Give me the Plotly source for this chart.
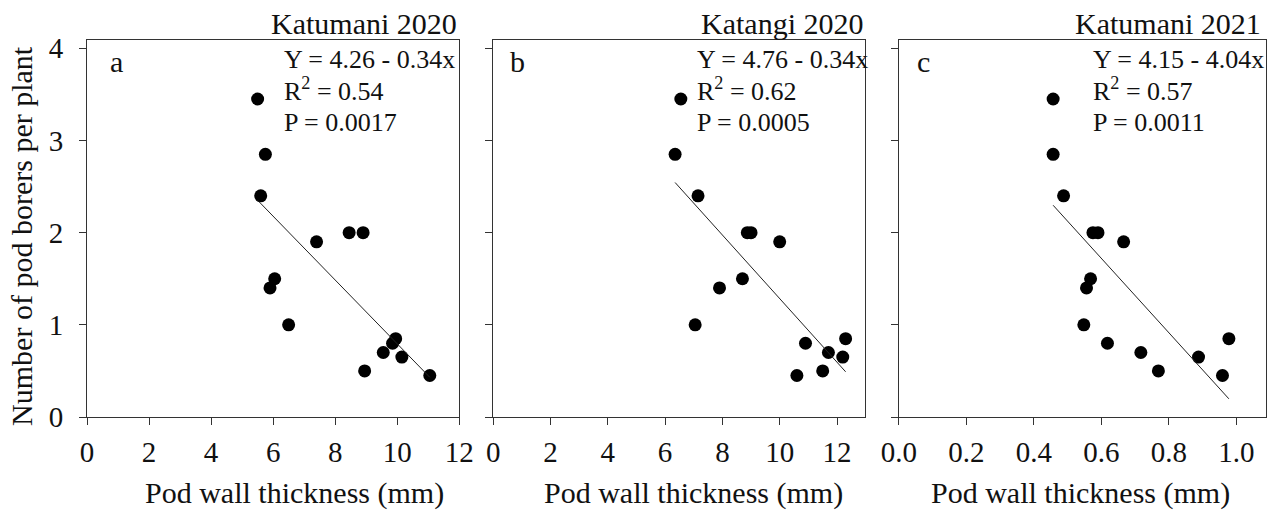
import numpy as np
import plotly.graph_objects as go

# ---- data ----
panel_titles = ["Katumani 2020", "Katangi 2020", "Katumani 2021"]
panel_letters = ["a", "b", "c"]
equations = ["Y = 4.26 - 0.34x", "Y = 4.76 - 0.34x", "Y = 4.15 - 4.04x"]
r2_values = ["0.54", "0.62", "0.57"]
p_values = ["0.0017", "0.0005", "0.0011"]

x_a = [5.5, 5.75, 5.6, 7.4, 8.45, 8.9, 6.05, 5.9, 6.5, 9.95, 9.85, 9.55, 10.15, 8.95, 11.05]
y_a = [3.45, 2.85, 2.4, 1.9, 2.0, 2.0, 1.5, 1.4, 1.0, 0.85, 0.8, 0.7, 0.65, 0.5, 0.45]

x_b = [6.55, 6.35, 7.15, 8.87, 9.0, 10.0, 8.7, 7.9, 7.05, 10.9, 12.3, 11.7, 12.2, 11.5, 10.6]
y_b = [3.45, 2.85, 2.4, 2.0, 2.0, 1.9, 1.5, 1.4, 1.0, 0.8, 0.85, 0.7, 0.65, 0.5, 0.45]

x_c = [0.457, 0.457, 0.488, 0.575, 0.59, 0.666, 0.568, 0.556, 0.548, 0.618, 0.717, 0.769, 0.888, 0.959, 0.978]
y_c = [3.45, 2.85, 2.4, 2.0, 2.0, 1.9, 1.5, 1.4, 1.0, 0.8, 0.7, 0.5, 0.65, 0.45, 0.85]

x_tickvals_ab = [0, 2, 4, 6, 8, 10, 12]
x_tickvals_c = [0.0, 0.2, 0.4, 0.6, 0.8, 1.0]
x_ticktext_c = ["0.0", "0.2", "0.4", "0.6", "0.8", "1.0"]
y_tickvals = [0, 1, 2, 3, 4]

xs = [x_a, x_b, x_c]
ys = [y_a, y_b, y_c]

# ---- layout geometry ----
W, H = 1288, 510
ML, MR, MT, MB = 87, 7, 40, 93
PW = W - ML - MR
def pfx(px):
    return (px - ML) / PW

domains = [[pfx(87), pfx(464)], [pfx(498.3), pfx(875)], [pfx(909.3), pfx(1281)]]
x_ranges = [[0, 12], [0, 12.98], [0, 1.088]]
y_range = [0, 4.09]

FONT = "Liberation Serif, Times New Roman, serif"
INK = "#111111"
AX = "#333333"

fig = go.Figure()
for i in range(3):
    suffix = "" if i == 0 else str(i + 1)
    x = np.array(xs[i]); y = np.array(ys[i])
    fig.add_trace(go.Scatter(x=x, y=y, mode="markers",
                             marker=dict(size=13, color="#000000"),
                             xaxis="x" + suffix, yaxis="y" + suffix, showlegend=False))
    slope, intercept = np.polyfit(x, y, 1)
    lx = np.array([x.min(), x.max()])
    fig.add_trace(go.Scatter(x=lx, y=intercept + slope * lx, mode="lines",
                             line=dict(color="#222222", width=1),
                             xaxis="x" + suffix, yaxis="y" + suffix, showlegend=False))

axis_common = dict(showline=True, mirror=True, linecolor=AX, linewidth=1,
                   ticks="outside", ticklen=7, tickcolor=AX, tickwidth=1,
                   showgrid=False, zeroline=False,
                   tickfont=dict(family=FONT, size=29, color=INK))

layout = dict(width=W, height=H, margin=dict(l=ML, r=MR, t=MT, b=MB),
              paper_bgcolor="white", plot_bgcolor="white",
              font=dict(family=FONT, color=INK), showlegend=False)

for i in range(3):
    suffix = "" if i == 0 else str(i + 1)
    xa = dict(axis_common, domain=domains[i], range=x_ranges[i],
              anchor="y" + suffix, ticklabelstandoff=2)
    if i < 2:
        xa.update(tickvals=x_tickvals_ab)
    else:
        xa.update(tickvals=x_tickvals_c, ticktext=x_ticktext_c)
    ya = dict(axis_common, domain=[0, 1], range=y_range, anchor="x" + suffix,
              tickvals=y_tickvals, showticklabels=(i == 0), ticklabelstandoff=10)
    layout["xaxis" + suffix] = xa
    layout["yaxis" + suffix] = ya

fig.update_layout(**layout)

# annotations
eq_x = [0.525, 0.543, 0.524]
letter_x = [0.0796, 0.0656, 0.0665]
xtitle_x = [0.557, 0.54, 0.494]
title_x = [1.0, 1.0, 0.992]
for i in range(3):
    suffix = "" if i == 0 else str(i + 1)
    xr = "x" + suffix + " domain"
    yr = "y" + suffix + " domain"
    fig.add_annotation(text=panel_titles[i], xref=xr, yref=yr, x=title_x[i], y=1.0425,
                       xanchor="right", yanchor="middle", showarrow=False,
                       font=dict(family=FONT, size=30, color=INK))
    fig.add_annotation(text=panel_letters[i], xref=xr, yref=yr, x=letter_x[i], y=0.944,
                       xanchor="center", yanchor="middle", showarrow=False,
                       font=dict(family=FONT, size=30, color=INK))
    lines = [equations[i], "R<sup>2</sup> = " + r2_values[i], "P = " + p_values[i]]
    for j, (txt, yy) in enumerate(zip(lines, [0.9496, 0.868, 0.7823])):
        fig.add_annotation(text=txt, xref=xr, yref=yr, x=eq_x[i], y=yy,
                           xanchor="left", yanchor="middle", showarrow=False,
                           font=dict(family=FONT, size=26, color=INK))
    fig.add_annotation(text="Pod wall thickness (mm)", xref=xr, yref=yr,
                       x=xtitle_x[i], y=-0.2025, xanchor="center", yanchor="middle",
                       showarrow=False, font=dict(family=FONT, size=30, color=INK))

fig.add_annotation(text="Number of pod borers per plant", xref="x domain", yref="y domain",
                   x=-0.1777, y=0.48, xanchor="center", yanchor="middle", textangle=-90,
                   showarrow=False, font=dict(family=FONT, size=30, color=INK))

fig.write_html("out.html")
